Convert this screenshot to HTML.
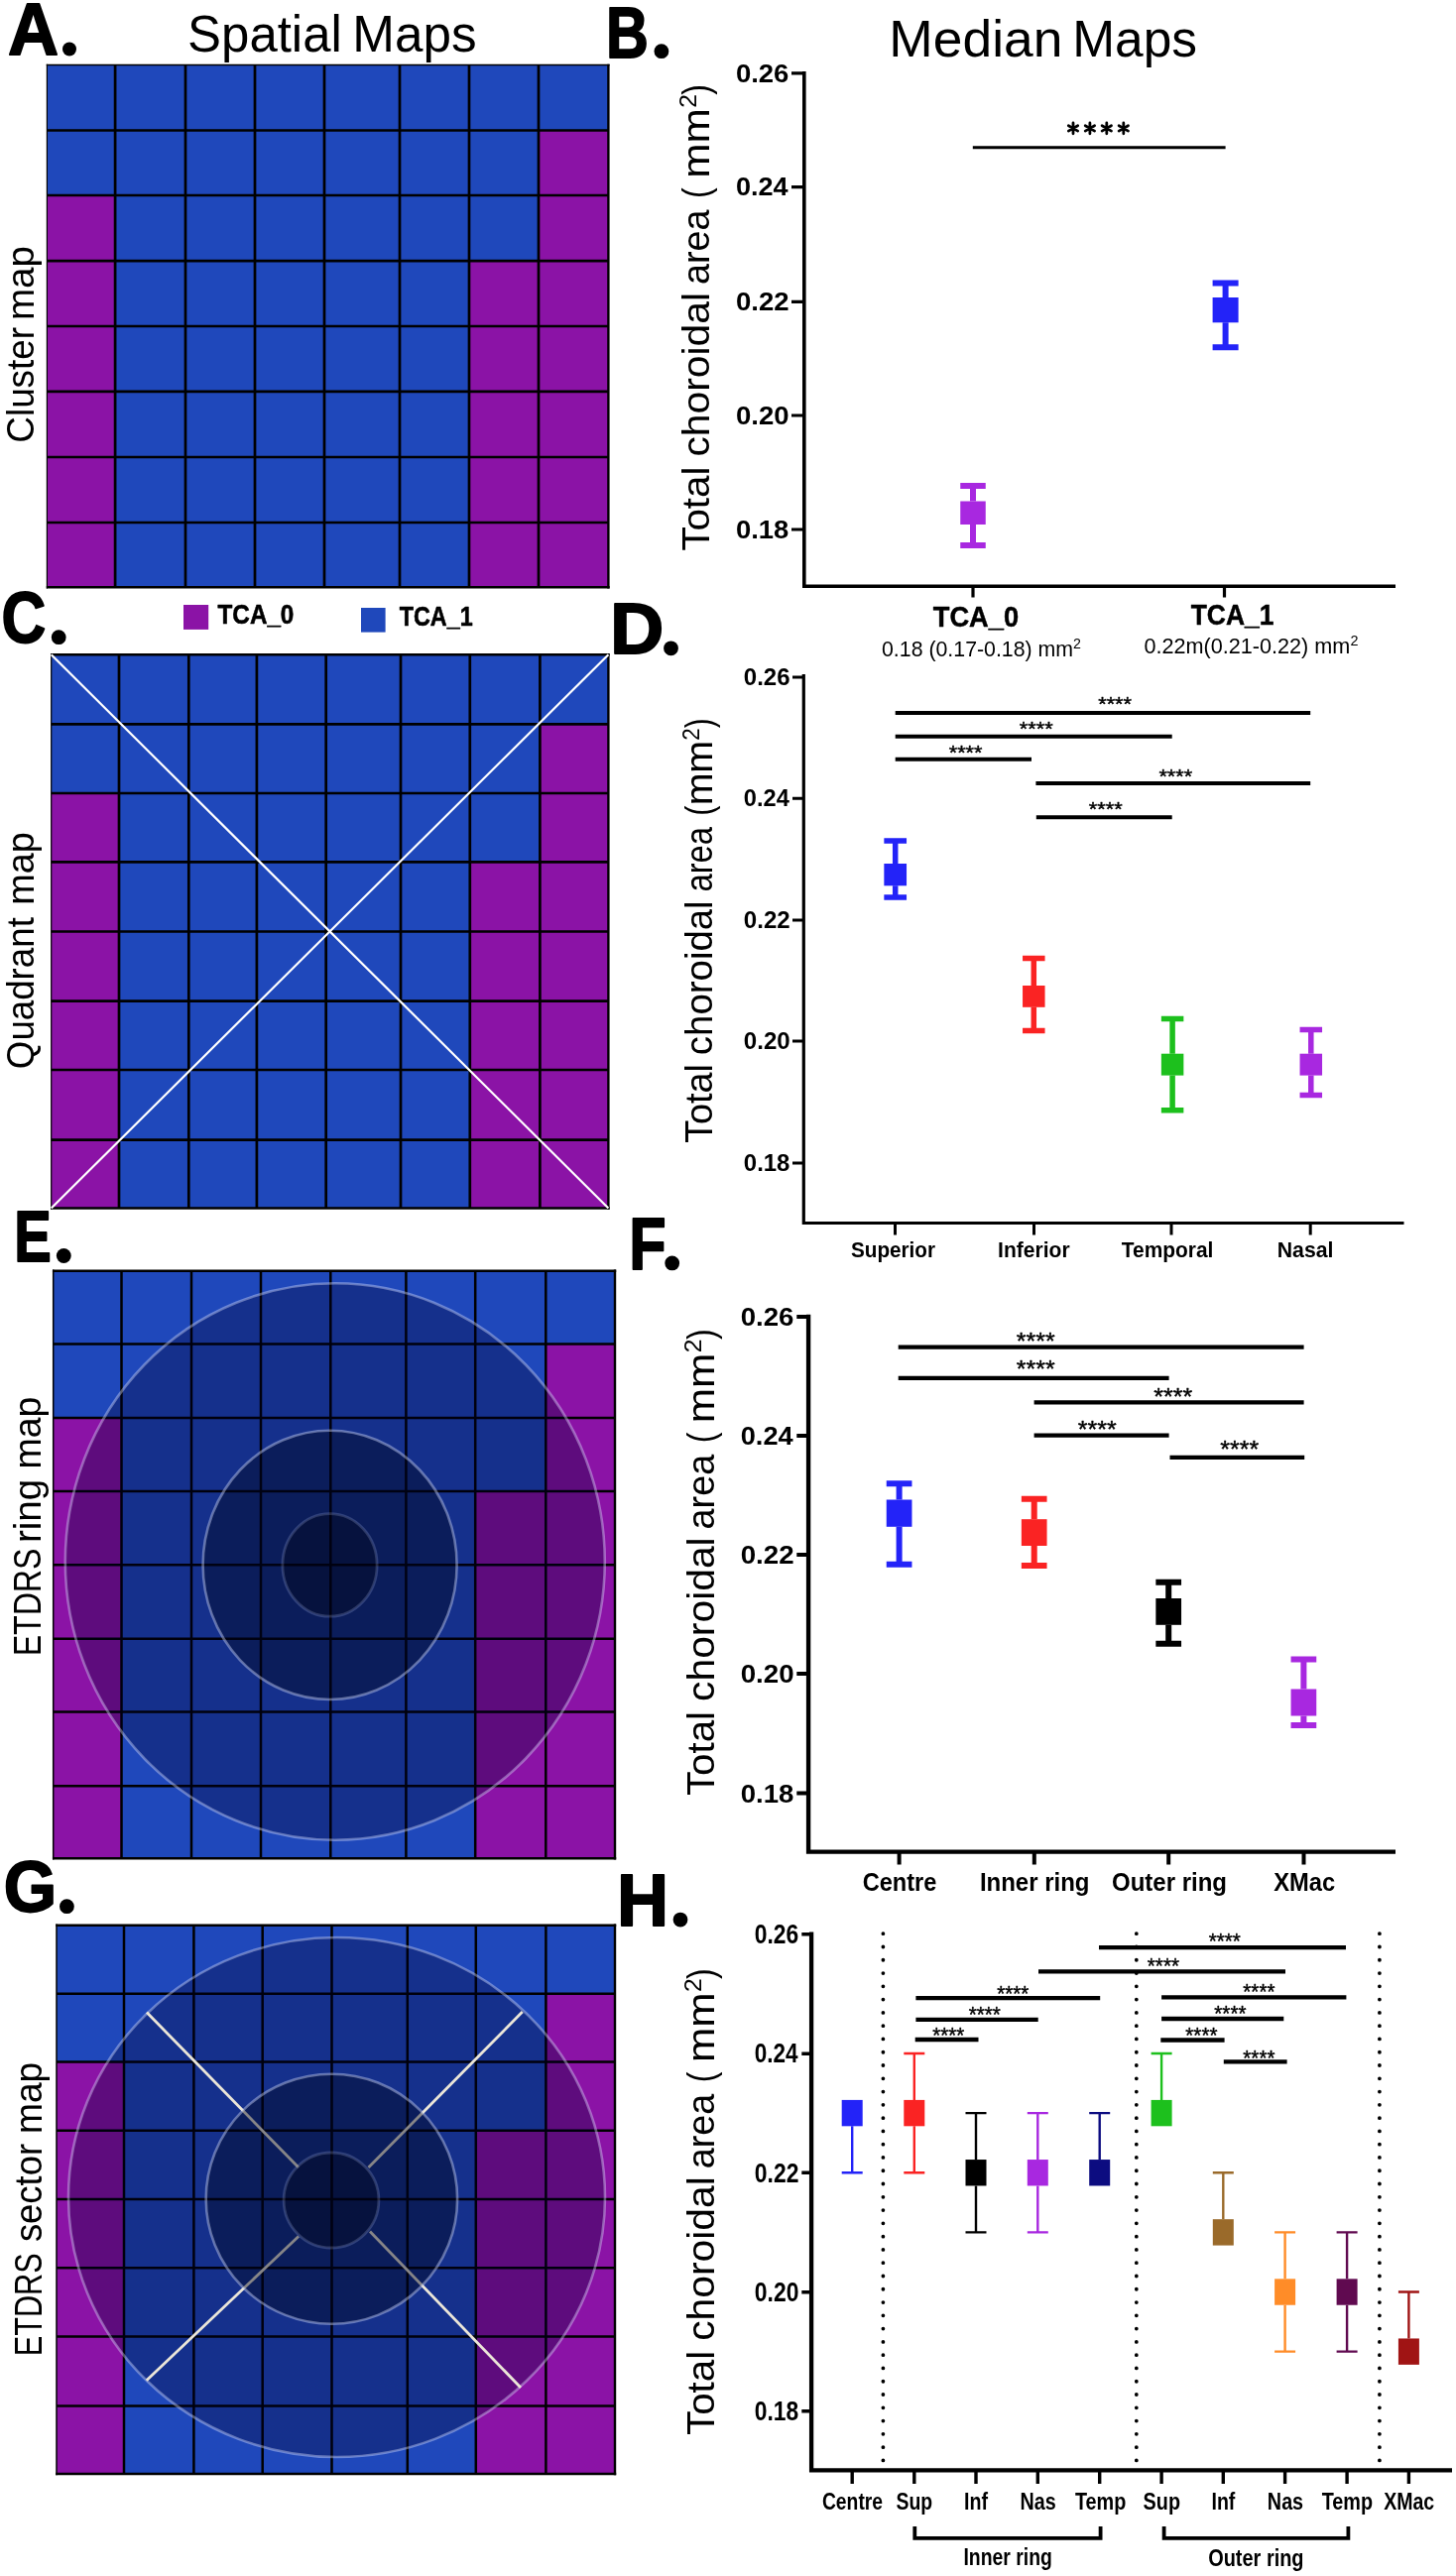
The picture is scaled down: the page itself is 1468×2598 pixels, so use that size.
<!DOCTYPE html>
<html><head><meta charset="utf-8"><title>Figure</title>
<style>html,body{margin:0;padding:0;background:#fff}svg{display:block}text{font-family:"Liberation Sans", sans-serif}</style>
</head><body>
<svg width="1468" height="2598" viewBox="0 0 1468 2598" style="will-change:transform">
<rect width="1468" height="2598" fill="#fff"/>
<rect x="47.4" y="65.5" width="69.2" height="66.5" fill="#1f48bb"/>
<rect x="116.1" y="65.5" width="71.4" height="66.5" fill="#1f48bb"/>
<rect x="187" y="65.5" width="70.5" height="66.5" fill="#1f48bb"/>
<rect x="257" y="65.5" width="70.5" height="66.5" fill="#1f48bb"/>
<rect x="327" y="65.5" width="76.5" height="66.5" fill="#1f48bb"/>
<rect x="403" y="65.5" width="70.5" height="66.5" fill="#1f48bb"/>
<rect x="473" y="65.5" width="70.5" height="66.5" fill="#1f48bb"/>
<rect x="543" y="65.5" width="70.9" height="66.5" fill="#1f48bb"/>
<rect x="47.4" y="131.5" width="69.2" height="66" fill="#1f48bb"/>
<rect x="116.1" y="131.5" width="71.4" height="66" fill="#1f48bb"/>
<rect x="187" y="131.5" width="70.5" height="66" fill="#1f48bb"/>
<rect x="257" y="131.5" width="70.5" height="66" fill="#1f48bb"/>
<rect x="327" y="131.5" width="76.5" height="66" fill="#1f48bb"/>
<rect x="403" y="131.5" width="70.5" height="66" fill="#1f48bb"/>
<rect x="473" y="131.5" width="70.5" height="66" fill="#1f48bb"/>
<rect x="543" y="131.5" width="70.9" height="66" fill="#8b13a6"/>
<rect x="47.4" y="197" width="69.2" height="66.7" fill="#8b13a6"/>
<rect x="116.1" y="197" width="71.4" height="66.7" fill="#1f48bb"/>
<rect x="187" y="197" width="70.5" height="66.7" fill="#1f48bb"/>
<rect x="257" y="197" width="70.5" height="66.7" fill="#1f48bb"/>
<rect x="327" y="197" width="76.5" height="66.7" fill="#1f48bb"/>
<rect x="403" y="197" width="70.5" height="66.7" fill="#1f48bb"/>
<rect x="473" y="197" width="70.5" height="66.7" fill="#1f48bb"/>
<rect x="543" y="197" width="70.9" height="66.7" fill="#8b13a6"/>
<rect x="47.4" y="263.2" width="69.2" height="66.3" fill="#8b13a6"/>
<rect x="116.1" y="263.2" width="71.4" height="66.3" fill="#1f48bb"/>
<rect x="187" y="263.2" width="70.5" height="66.3" fill="#1f48bb"/>
<rect x="257" y="263.2" width="70.5" height="66.3" fill="#1f48bb"/>
<rect x="327" y="263.2" width="76.5" height="66.3" fill="#1f48bb"/>
<rect x="403" y="263.2" width="70.5" height="66.3" fill="#1f48bb"/>
<rect x="473" y="263.2" width="70.5" height="66.3" fill="#8b13a6"/>
<rect x="543" y="263.2" width="70.9" height="66.3" fill="#8b13a6"/>
<rect x="47.4" y="329" width="69.2" height="66.4" fill="#8b13a6"/>
<rect x="116.1" y="329" width="71.4" height="66.4" fill="#1f48bb"/>
<rect x="187" y="329" width="70.5" height="66.4" fill="#1f48bb"/>
<rect x="257" y="329" width="70.5" height="66.4" fill="#1f48bb"/>
<rect x="327" y="329" width="76.5" height="66.4" fill="#1f48bb"/>
<rect x="403" y="329" width="70.5" height="66.4" fill="#1f48bb"/>
<rect x="473" y="329" width="70.5" height="66.4" fill="#8b13a6"/>
<rect x="543" y="329" width="70.9" height="66.4" fill="#8b13a6"/>
<rect x="47.4" y="394.9" width="69.2" height="66.6" fill="#8b13a6"/>
<rect x="116.1" y="394.9" width="71.4" height="66.6" fill="#1f48bb"/>
<rect x="187" y="394.9" width="70.5" height="66.6" fill="#1f48bb"/>
<rect x="257" y="394.9" width="70.5" height="66.6" fill="#1f48bb"/>
<rect x="327" y="394.9" width="76.5" height="66.6" fill="#1f48bb"/>
<rect x="403" y="394.9" width="70.5" height="66.6" fill="#1f48bb"/>
<rect x="473" y="394.9" width="70.5" height="66.6" fill="#8b13a6"/>
<rect x="543" y="394.9" width="70.9" height="66.6" fill="#8b13a6"/>
<rect x="47.4" y="461" width="69.2" height="66.5" fill="#8b13a6"/>
<rect x="116.1" y="461" width="71.4" height="66.5" fill="#1f48bb"/>
<rect x="187" y="461" width="70.5" height="66.5" fill="#1f48bb"/>
<rect x="257" y="461" width="70.5" height="66.5" fill="#1f48bb"/>
<rect x="327" y="461" width="76.5" height="66.5" fill="#1f48bb"/>
<rect x="403" y="461" width="70.5" height="66.5" fill="#1f48bb"/>
<rect x="473" y="461" width="70.5" height="66.5" fill="#8b13a6"/>
<rect x="543" y="461" width="70.9" height="66.5" fill="#8b13a6"/>
<rect x="47.4" y="527" width="69.2" height="65.8" fill="#8b13a6"/>
<rect x="116.1" y="527" width="71.4" height="65.8" fill="#1f48bb"/>
<rect x="187" y="527" width="70.5" height="65.8" fill="#1f48bb"/>
<rect x="257" y="527" width="70.5" height="65.8" fill="#1f48bb"/>
<rect x="327" y="527" width="76.5" height="65.8" fill="#1f48bb"/>
<rect x="403" y="527" width="70.5" height="65.8" fill="#1f48bb"/>
<rect x="473" y="527" width="70.5" height="65.8" fill="#8b13a6"/>
<rect x="543" y="527" width="70.9" height="65.8" fill="#8b13a6"/>
<path d="M116.1 65.5V592.3M187 65.5V592.3M257 65.5V592.3M327 65.5V592.3M403 65.5V592.3M473 65.5V592.3M543 65.5V592.3M47.4 131.5H613.4M47.4 197H613.4M47.4 263.2H613.4M47.4 329H613.4M47.4 394.9H613.4M47.4 461H613.4M47.4 527H613.4" stroke="#000" stroke-width="2.7" fill="none"/>
<path d="M47.4 64.7V593.5" stroke="#000" stroke-width="1.2"/>
<path d="M613.4 64.7V593.5" stroke="#000" stroke-width="2.4"/>
<path d="M46.8 65.5H614.6" stroke="#000" stroke-width="1.6"/>
<path d="M46.8 592.3H614.6" stroke="#000" stroke-width="2.4"/>
<rect x="51.7" y="660.3" width="68.8" height="70.6" fill="#1f48bb"/>
<rect x="120" y="660.3" width="70.8" height="70.6" fill="#1f48bb"/>
<rect x="190.3" y="660.3" width="69.1" height="70.6" fill="#1f48bb"/>
<rect x="258.9" y="660.3" width="70.3" height="70.6" fill="#1f48bb"/>
<rect x="328.7" y="660.3" width="75.8" height="70.6" fill="#1f48bb"/>
<rect x="404" y="660.3" width="70.3" height="70.6" fill="#1f48bb"/>
<rect x="473.8" y="660.3" width="71.1" height="70.6" fill="#1f48bb"/>
<rect x="544.4" y="660.3" width="69.5" height="70.6" fill="#1f48bb"/>
<rect x="51.7" y="730.4" width="68.8" height="70.1" fill="#1f48bb"/>
<rect x="120" y="730.4" width="70.8" height="70.1" fill="#1f48bb"/>
<rect x="190.3" y="730.4" width="69.1" height="70.1" fill="#1f48bb"/>
<rect x="258.9" y="730.4" width="70.3" height="70.1" fill="#1f48bb"/>
<rect x="328.7" y="730.4" width="75.8" height="70.1" fill="#1f48bb"/>
<rect x="404" y="730.4" width="70.3" height="70.1" fill="#1f48bb"/>
<rect x="473.8" y="730.4" width="71.1" height="70.1" fill="#1f48bb"/>
<rect x="544.4" y="730.4" width="69.5" height="70.1" fill="#8b13a6"/>
<rect x="51.7" y="800" width="68.8" height="69.8" fill="#8b13a6"/>
<rect x="120" y="800" width="70.8" height="69.8" fill="#1f48bb"/>
<rect x="190.3" y="800" width="69.1" height="69.8" fill="#1f48bb"/>
<rect x="258.9" y="800" width="70.3" height="69.8" fill="#1f48bb"/>
<rect x="328.7" y="800" width="75.8" height="69.8" fill="#1f48bb"/>
<rect x="404" y="800" width="70.3" height="69.8" fill="#1f48bb"/>
<rect x="473.8" y="800" width="71.1" height="69.8" fill="#1f48bb"/>
<rect x="544.4" y="800" width="69.5" height="69.8" fill="#8b13a6"/>
<rect x="51.7" y="869.3" width="68.8" height="70.7" fill="#8b13a6"/>
<rect x="120" y="869.3" width="70.8" height="70.7" fill="#1f48bb"/>
<rect x="190.3" y="869.3" width="69.1" height="70.7" fill="#1f48bb"/>
<rect x="258.9" y="869.3" width="70.3" height="70.7" fill="#1f48bb"/>
<rect x="328.7" y="869.3" width="75.8" height="70.7" fill="#1f48bb"/>
<rect x="404" y="869.3" width="70.3" height="70.7" fill="#1f48bb"/>
<rect x="473.8" y="869.3" width="71.1" height="70.7" fill="#8b13a6"/>
<rect x="544.4" y="869.3" width="69.5" height="70.7" fill="#8b13a6"/>
<rect x="51.7" y="939.5" width="68.8" height="70.6" fill="#8b13a6"/>
<rect x="120" y="939.5" width="70.8" height="70.6" fill="#1f48bb"/>
<rect x="190.3" y="939.5" width="69.1" height="70.6" fill="#1f48bb"/>
<rect x="258.9" y="939.5" width="70.3" height="70.6" fill="#1f48bb"/>
<rect x="328.7" y="939.5" width="75.8" height="70.6" fill="#1f48bb"/>
<rect x="404" y="939.5" width="70.3" height="70.6" fill="#1f48bb"/>
<rect x="473.8" y="939.5" width="71.1" height="70.6" fill="#8b13a6"/>
<rect x="544.4" y="939.5" width="69.5" height="70.6" fill="#8b13a6"/>
<rect x="51.7" y="1009.6" width="68.8" height="69.9" fill="#8b13a6"/>
<rect x="120" y="1009.6" width="70.8" height="69.9" fill="#1f48bb"/>
<rect x="190.3" y="1009.6" width="69.1" height="69.9" fill="#1f48bb"/>
<rect x="258.9" y="1009.6" width="70.3" height="69.9" fill="#1f48bb"/>
<rect x="328.7" y="1009.6" width="75.8" height="69.9" fill="#1f48bb"/>
<rect x="404" y="1009.6" width="70.3" height="69.9" fill="#1f48bb"/>
<rect x="473.8" y="1009.6" width="71.1" height="69.9" fill="#8b13a6"/>
<rect x="544.4" y="1009.6" width="69.5" height="69.9" fill="#8b13a6"/>
<rect x="51.7" y="1079" width="68.8" height="71.2" fill="#8b13a6"/>
<rect x="120" y="1079" width="70.8" height="71.2" fill="#1f48bb"/>
<rect x="190.3" y="1079" width="69.1" height="71.2" fill="#1f48bb"/>
<rect x="258.9" y="1079" width="70.3" height="71.2" fill="#1f48bb"/>
<rect x="328.7" y="1079" width="75.8" height="71.2" fill="#1f48bb"/>
<rect x="404" y="1079" width="70.3" height="71.2" fill="#1f48bb"/>
<rect x="473.8" y="1079" width="71.1" height="71.2" fill="#8b13a6"/>
<rect x="544.4" y="1079" width="69.5" height="71.2" fill="#8b13a6"/>
<rect x="51.7" y="1149.7" width="68.8" height="69.3" fill="#8b13a6"/>
<rect x="120" y="1149.7" width="70.8" height="69.3" fill="#1f48bb"/>
<rect x="190.3" y="1149.7" width="69.1" height="69.3" fill="#1f48bb"/>
<rect x="258.9" y="1149.7" width="70.3" height="69.3" fill="#1f48bb"/>
<rect x="328.7" y="1149.7" width="75.8" height="69.3" fill="#1f48bb"/>
<rect x="404" y="1149.7" width="70.3" height="69.3" fill="#1f48bb"/>
<rect x="473.8" y="1149.7" width="71.1" height="69.3" fill="#8b13a6"/>
<rect x="544.4" y="1149.7" width="69.5" height="69.3" fill="#8b13a6"/>
<path d="M120 660.3V1218.5M190.3 660.3V1218.5M258.9 660.3V1218.5M328.7 660.3V1218.5M404 660.3V1218.5M473.8 660.3V1218.5M544.4 660.3V1218.5M51.7 730.4H613.4M51.7 800H613.4M51.7 869.3H613.4M51.7 939.5H613.4M51.7 1009.6H613.4M51.7 1079H613.4M51.7 1149.7H613.4" stroke="#000" stroke-width="2.7" fill="none"/>
<path d="M51.7 659.1V1219.7" stroke="#000" stroke-width="1.2"/>
<path d="M613.4 659.1V1219.7" stroke="#000" stroke-width="2.4"/>
<path d="M51.1 660.3H614.6" stroke="#000" stroke-width="2.4"/>
<path d="M51.1 1218.5H614.6" stroke="#000" stroke-width="2.4"/>
<path d="M51.7 660.3L613.4 1218.5M613.4 660.3L51.7 1218.5" stroke="#fff" stroke-width="2.2"/>
<rect x="53.7" y="1281.8" width="69.3" height="74.2" fill="#1f48bb"/>
<rect x="122.5" y="1281.8" width="71" height="74.2" fill="#1f48bb"/>
<rect x="193" y="1281.8" width="70.5" height="74.2" fill="#1f48bb"/>
<rect x="263" y="1281.8" width="70.8" height="74.2" fill="#1f48bb"/>
<rect x="333.3" y="1281.8" width="76.6" height="74.2" fill="#1f48bb"/>
<rect x="409.4" y="1281.8" width="70.3" height="74.2" fill="#1f48bb"/>
<rect x="479.2" y="1281.8" width="71.6" height="74.2" fill="#1f48bb"/>
<rect x="550.3" y="1281.8" width="70.2" height="74.2" fill="#1f48bb"/>
<rect x="53.7" y="1355.5" width="69.3" height="74.9" fill="#1f48bb"/>
<rect x="122.5" y="1355.5" width="71" height="74.9" fill="#1f48bb"/>
<rect x="193" y="1355.5" width="70.5" height="74.9" fill="#1f48bb"/>
<rect x="263" y="1355.5" width="70.8" height="74.9" fill="#1f48bb"/>
<rect x="333.3" y="1355.5" width="76.6" height="74.9" fill="#1f48bb"/>
<rect x="409.4" y="1355.5" width="70.3" height="74.9" fill="#1f48bb"/>
<rect x="479.2" y="1355.5" width="71.6" height="74.9" fill="#1f48bb"/>
<rect x="550.3" y="1355.5" width="70.2" height="74.9" fill="#8b13a6"/>
<rect x="53.7" y="1429.9" width="69.3" height="74.5" fill="#8b13a6"/>
<rect x="122.5" y="1429.9" width="71" height="74.5" fill="#1f48bb"/>
<rect x="193" y="1429.9" width="70.5" height="74.5" fill="#1f48bb"/>
<rect x="263" y="1429.9" width="70.8" height="74.5" fill="#1f48bb"/>
<rect x="333.3" y="1429.9" width="76.6" height="74.5" fill="#1f48bb"/>
<rect x="409.4" y="1429.9" width="70.3" height="74.5" fill="#1f48bb"/>
<rect x="479.2" y="1429.9" width="71.6" height="74.5" fill="#1f48bb"/>
<rect x="550.3" y="1429.9" width="70.2" height="74.5" fill="#8b13a6"/>
<rect x="53.7" y="1503.9" width="69.3" height="74.9" fill="#8b13a6"/>
<rect x="122.5" y="1503.9" width="71" height="74.9" fill="#1f48bb"/>
<rect x="193" y="1503.9" width="70.5" height="74.9" fill="#1f48bb"/>
<rect x="263" y="1503.9" width="70.8" height="74.9" fill="#1f48bb"/>
<rect x="333.3" y="1503.9" width="76.6" height="74.9" fill="#1f48bb"/>
<rect x="409.4" y="1503.9" width="70.3" height="74.9" fill="#1f48bb"/>
<rect x="479.2" y="1503.9" width="71.6" height="74.9" fill="#8b13a6"/>
<rect x="550.3" y="1503.9" width="70.2" height="74.9" fill="#8b13a6"/>
<rect x="53.7" y="1578.3" width="69.3" height="75" fill="#8b13a6"/>
<rect x="122.5" y="1578.3" width="71" height="75" fill="#1f48bb"/>
<rect x="193" y="1578.3" width="70.5" height="75" fill="#1f48bb"/>
<rect x="263" y="1578.3" width="70.8" height="75" fill="#1f48bb"/>
<rect x="333.3" y="1578.3" width="76.6" height="75" fill="#1f48bb"/>
<rect x="409.4" y="1578.3" width="70.3" height="75" fill="#1f48bb"/>
<rect x="479.2" y="1578.3" width="71.6" height="75" fill="#8b13a6"/>
<rect x="550.3" y="1578.3" width="70.2" height="75" fill="#8b13a6"/>
<rect x="53.7" y="1652.8" width="69.3" height="74.1" fill="#8b13a6"/>
<rect x="122.5" y="1652.8" width="71" height="74.1" fill="#1f48bb"/>
<rect x="193" y="1652.8" width="70.5" height="74.1" fill="#1f48bb"/>
<rect x="263" y="1652.8" width="70.8" height="74.1" fill="#1f48bb"/>
<rect x="333.3" y="1652.8" width="76.6" height="74.1" fill="#1f48bb"/>
<rect x="409.4" y="1652.8" width="70.3" height="74.1" fill="#1f48bb"/>
<rect x="479.2" y="1652.8" width="71.6" height="74.1" fill="#8b13a6"/>
<rect x="550.3" y="1652.8" width="70.2" height="74.1" fill="#8b13a6"/>
<rect x="53.7" y="1726.4" width="69.3" height="75.3" fill="#8b13a6"/>
<rect x="122.5" y="1726.4" width="71" height="75.3" fill="#1f48bb"/>
<rect x="193" y="1726.4" width="70.5" height="75.3" fill="#1f48bb"/>
<rect x="263" y="1726.4" width="70.8" height="75.3" fill="#1f48bb"/>
<rect x="333.3" y="1726.4" width="76.6" height="75.3" fill="#1f48bb"/>
<rect x="409.4" y="1726.4" width="70.3" height="75.3" fill="#1f48bb"/>
<rect x="479.2" y="1726.4" width="71.6" height="75.3" fill="#8b13a6"/>
<rect x="550.3" y="1726.4" width="70.2" height="75.3" fill="#8b13a6"/>
<rect x="53.7" y="1801.2" width="69.3" height="73.6" fill="#8b13a6"/>
<rect x="122.5" y="1801.2" width="71" height="73.6" fill="#1f48bb"/>
<rect x="193" y="1801.2" width="70.5" height="73.6" fill="#1f48bb"/>
<rect x="263" y="1801.2" width="70.8" height="73.6" fill="#1f48bb"/>
<rect x="333.3" y="1801.2" width="76.6" height="73.6" fill="#1f48bb"/>
<rect x="409.4" y="1801.2" width="70.3" height="73.6" fill="#1f48bb"/>
<rect x="479.2" y="1801.2" width="71.6" height="73.6" fill="#8b13a6"/>
<rect x="550.3" y="1801.2" width="70.2" height="73.6" fill="#8b13a6"/>
<path d="M122.5 1281.8V1874.3M193 1281.8V1874.3M263 1281.8V1874.3M333.3 1281.8V1874.3M409.4 1281.8V1874.3M479.2 1281.8V1874.3M550.3 1281.8V1874.3M53.7 1355.5H620M53.7 1429.9H620M53.7 1503.9H620M53.7 1578.3H620M53.7 1652.8H620M53.7 1726.4H620M53.7 1801.2H620" stroke="#000" stroke-width="2.5" fill="none"/>
<path d="M53.7 1280.6V1875.5" stroke="#000" stroke-width="1.5"/>
<path d="M620 1280.6V1875.5" stroke="#000" stroke-width="2.4"/>
<path d="M52.95 1281.8H621.2" stroke="#000" stroke-width="2.4"/>
<path d="M52.95 1874.3H621.2" stroke="#000" stroke-width="2.4"/>
<ellipse cx="337.8" cy="1575" rx="272" ry="280.7" fill="#000028" fill-opacity="0.32" stroke="#dfe4ff" stroke-opacity="0.4" stroke-width="2.6"/>
<ellipse cx="332.6" cy="1578.4" rx="128" ry="135.6" fill="#00051c" fill-opacity="0.43" stroke="#d0d8f8" stroke-opacity="0.44" stroke-width="2.6"/>
<ellipse cx="332.5" cy="1578.4" rx="47.6" ry="51.8" fill="#000011" fill-opacity="0.38" stroke="#b8c4f0" stroke-opacity="0.22" stroke-width="2.8"/>
<rect x="57" y="1941.8" width="68.5" height="69.4" fill="#1f48bb"/>
<rect x="125" y="1941.8" width="70.9" height="69.4" fill="#1f48bb"/>
<rect x="195.4" y="1941.8" width="69.8" height="69.4" fill="#1f48bb"/>
<rect x="264.7" y="1941.8" width="70.3" height="69.4" fill="#1f48bb"/>
<rect x="334.5" y="1941.8" width="76.8" height="69.4" fill="#1f48bb"/>
<rect x="410.8" y="1941.8" width="69.5" height="69.4" fill="#1f48bb"/>
<rect x="479.8" y="1941.8" width="71.1" height="69.4" fill="#1f48bb"/>
<rect x="550.4" y="1941.8" width="70.1" height="69.4" fill="#1f48bb"/>
<rect x="57" y="2010.7" width="68.5" height="69.3" fill="#1f48bb"/>
<rect x="125" y="2010.7" width="70.9" height="69.3" fill="#1f48bb"/>
<rect x="195.4" y="2010.7" width="69.8" height="69.3" fill="#1f48bb"/>
<rect x="264.7" y="2010.7" width="70.3" height="69.3" fill="#1f48bb"/>
<rect x="334.5" y="2010.7" width="76.8" height="69.3" fill="#1f48bb"/>
<rect x="410.8" y="2010.7" width="69.5" height="69.3" fill="#1f48bb"/>
<rect x="479.8" y="2010.7" width="71.1" height="69.3" fill="#1f48bb"/>
<rect x="550.4" y="2010.7" width="70.1" height="69.3" fill="#8b13a6"/>
<rect x="57" y="2079.5" width="68.5" height="69.8" fill="#8b13a6"/>
<rect x="125" y="2079.5" width="70.9" height="69.8" fill="#1f48bb"/>
<rect x="195.4" y="2079.5" width="69.8" height="69.8" fill="#1f48bb"/>
<rect x="264.7" y="2079.5" width="70.3" height="69.8" fill="#1f48bb"/>
<rect x="334.5" y="2079.5" width="76.8" height="69.8" fill="#1f48bb"/>
<rect x="410.8" y="2079.5" width="69.5" height="69.8" fill="#1f48bb"/>
<rect x="479.8" y="2079.5" width="71.1" height="69.8" fill="#1f48bb"/>
<rect x="550.4" y="2079.5" width="70.1" height="69.8" fill="#8b13a6"/>
<rect x="57" y="2148.8" width="68.5" height="69.7" fill="#8b13a6"/>
<rect x="125" y="2148.8" width="70.9" height="69.7" fill="#1f48bb"/>
<rect x="195.4" y="2148.8" width="69.8" height="69.7" fill="#1f48bb"/>
<rect x="264.7" y="2148.8" width="70.3" height="69.7" fill="#1f48bb"/>
<rect x="334.5" y="2148.8" width="76.8" height="69.7" fill="#1f48bb"/>
<rect x="410.8" y="2148.8" width="69.5" height="69.7" fill="#1f48bb"/>
<rect x="479.8" y="2148.8" width="71.1" height="69.7" fill="#8b13a6"/>
<rect x="550.4" y="2148.8" width="70.1" height="69.7" fill="#8b13a6"/>
<rect x="57" y="2218" width="68.5" height="69.7" fill="#8b13a6"/>
<rect x="125" y="2218" width="70.9" height="69.7" fill="#1f48bb"/>
<rect x="195.4" y="2218" width="69.8" height="69.7" fill="#1f48bb"/>
<rect x="264.7" y="2218" width="70.3" height="69.7" fill="#1f48bb"/>
<rect x="334.5" y="2218" width="76.8" height="69.7" fill="#1f48bb"/>
<rect x="410.8" y="2218" width="69.5" height="69.7" fill="#1f48bb"/>
<rect x="479.8" y="2218" width="71.1" height="69.7" fill="#8b13a6"/>
<rect x="550.4" y="2218" width="70.1" height="69.7" fill="#8b13a6"/>
<rect x="57" y="2287.2" width="68.5" height="69.9" fill="#8b13a6"/>
<rect x="125" y="2287.2" width="70.9" height="69.9" fill="#1f48bb"/>
<rect x="195.4" y="2287.2" width="69.8" height="69.9" fill="#1f48bb"/>
<rect x="264.7" y="2287.2" width="70.3" height="69.9" fill="#1f48bb"/>
<rect x="334.5" y="2287.2" width="76.8" height="69.9" fill="#1f48bb"/>
<rect x="410.8" y="2287.2" width="69.5" height="69.9" fill="#1f48bb"/>
<rect x="479.8" y="2287.2" width="71.1" height="69.9" fill="#8b13a6"/>
<rect x="550.4" y="2287.2" width="70.1" height="69.9" fill="#8b13a6"/>
<rect x="57" y="2356.6" width="68.5" height="70.5" fill="#8b13a6"/>
<rect x="125" y="2356.6" width="70.9" height="70.5" fill="#1f48bb"/>
<rect x="195.4" y="2356.6" width="69.8" height="70.5" fill="#1f48bb"/>
<rect x="264.7" y="2356.6" width="70.3" height="70.5" fill="#1f48bb"/>
<rect x="334.5" y="2356.6" width="76.8" height="70.5" fill="#1f48bb"/>
<rect x="410.8" y="2356.6" width="69.5" height="70.5" fill="#1f48bb"/>
<rect x="479.8" y="2356.6" width="71.1" height="70.5" fill="#8b13a6"/>
<rect x="550.4" y="2356.6" width="70.1" height="70.5" fill="#8b13a6"/>
<rect x="57" y="2426.6" width="68.5" height="68.9" fill="#8b13a6"/>
<rect x="125" y="2426.6" width="70.9" height="68.9" fill="#1f48bb"/>
<rect x="195.4" y="2426.6" width="69.8" height="68.9" fill="#1f48bb"/>
<rect x="264.7" y="2426.6" width="70.3" height="68.9" fill="#1f48bb"/>
<rect x="334.5" y="2426.6" width="76.8" height="68.9" fill="#1f48bb"/>
<rect x="410.8" y="2426.6" width="69.5" height="68.9" fill="#1f48bb"/>
<rect x="479.8" y="2426.6" width="71.1" height="68.9" fill="#8b13a6"/>
<rect x="550.4" y="2426.6" width="70.1" height="68.9" fill="#8b13a6"/>
<path d="M125 1941.8V2495M195.4 1941.8V2495M264.7 1941.8V2495M334.5 1941.8V2495M410.8 1941.8V2495M479.8 1941.8V2495M550.4 1941.8V2495M57 2010.7H620M57 2079.5H620M57 2148.8H620M57 2218H620M57 2287.2H620M57 2356.6H620M57 2426.6H620" stroke="#000" stroke-width="2.5" fill="none"/>
<path d="M57 1940.6V2496.2" stroke="#000" stroke-width="1.5"/>
<path d="M620 1940.6V2496.2" stroke="#000" stroke-width="2.4"/>
<path d="M56.25 1941.8H621.2" stroke="#000" stroke-width="2.4"/>
<path d="M56.25 2495H621.2" stroke="#000" stroke-width="2.4"/>
<ellipse cx="339.5" cy="2216" rx="270.5" ry="262" fill="#000028" fill-opacity="0.32" stroke="#dfe4ff" stroke-opacity="0.4" stroke-width="2.6"/>
<path d="M148 2029.6L301 2186M526.7 2029L371.5 2186M147.7 2400.7L301 2255.5M525 2408L373 2250.5" stroke="#ebe6d8" stroke-width="2.8"/>
<ellipse cx="334.4" cy="2217.7" rx="126.7" ry="126" fill="#00051c" fill-opacity="0.43" stroke="#d0d8f8" stroke-opacity="0.44" stroke-width="2.6"/>
<ellipse cx="334" cy="2219" rx="47.9" ry="48" fill="#000011" fill-opacity="0.38" stroke="#b8c4f0" stroke-opacity="0.22" stroke-width="2.8"/>
<rect x="185" y="610" width="25.2" height="24.9" fill="#8b13a6"/>
<rect x="364" y="613" width="24.6" height="24.6" fill="#1f48bb"/>
<text transform="translate(219.56 628.6) scale(0.8982 1)" font-size="27" font-weight="bold" fill="#000" stroke="#000" stroke-width="0.6" stroke-linejoin="round">TCA_0</text>
<text transform="translate(402.77 631) scale(0.8638 1)" font-size="27" font-weight="bold" fill="#000" stroke="#000" stroke-width="0.6" stroke-linejoin="round">TCA_1</text>
<text transform="translate(7.93 55.1) scale(0.9650 1)" font-size="73.31" font-weight="bold" fill="#000" stroke="#000" stroke-width="1.8" stroke-linejoin="round">A</text>
<circle cx="70" cy="49.5" r="7" fill="#000"/>
<text transform="translate(610.89 57.6) scale(0.8209 1)" font-size="72.29" font-weight="bold" fill="#000" stroke="#000" stroke-width="1.8" stroke-linejoin="round">B</text>
<circle cx="666.9" cy="51.7" r="7.4" fill="#000"/>
<text transform="translate(1.42 648.23) scale(0.8572 1)" font-size="72.31" font-weight="bold" fill="#000" stroke="#000" stroke-width="1.8" stroke-linejoin="round">C</text>
<circle cx="59.2" cy="642.7" r="7.4" fill="#000"/>
<text transform="translate(615.02 659.4) scale(1.0328 1)" font-size="72.87" font-weight="bold" fill="#000" stroke="#000" stroke-width="1.8" stroke-linejoin="round">D</text>
<circle cx="676.5" cy="653.8" r="7.4" fill="#000"/>
<text transform="translate(14.2 1272.4) scale(0.7750 1)" font-size="72.58" font-weight="bold" fill="#000" stroke="#000" stroke-width="1.8" stroke-linejoin="round">E</text>
<circle cx="64.3" cy="1266.5" r="7.4" fill="#000"/>
<text transform="translate(634.18 1279.8) scale(0.8283 1)" font-size="73.75" font-weight="bold" fill="#000" stroke="#000" stroke-width="1.8" stroke-linejoin="round">F</text>
<circle cx="677.7" cy="1273.9" r="7.4" fill="#000"/>
<text transform="translate(3.65 1928.23) scale(0.9525 1)" font-size="72.17" font-weight="bold" fill="#000" stroke="#000" stroke-width="1.8" stroke-linejoin="round">G</text>
<circle cx="67.4" cy="1922.7" r="7.4" fill="#000"/>
<text transform="translate(622.03 1942.3) scale(0.9806 1)" font-size="73.6" font-weight="bold" fill="#000" stroke="#000" stroke-width="1.8" stroke-linejoin="round">H</text>
<circle cx="686" cy="1936.1" r="7.4" fill="#000"/>
<text transform="translate(189.11 52.4) scale(0.9890 1)" font-size="51.5" font-weight="normal" fill="#000">Spatial</text>
<text transform="translate(355.37 52.4) scale(0.9944 1)" font-size="51.5" font-weight="normal" fill="#000">Maps</text>
<text transform="translate(896.3 56.7) scale(1.0267 1)" font-size="52" font-weight="normal" fill="#000">Median</text>
<text transform="translate(1081.15 56.7) scale(0.9898 1)" font-size="52" font-weight="normal" fill="#000">Maps</text>
<text transform="translate(34.1 446.64) rotate(-90) scale(0.9695 1)" font-size="38" font-weight="normal" fill="#000">Cluster</text>
<text transform="translate(34.1 323) rotate(-90) scale(1.0140 1)" font-size="38" font-weight="normal" fill="#000">map</text>
<text transform="translate(34.1 1078.14) rotate(-90) scale(0.9657 1)" font-size="38" font-weight="normal" fill="#000">Quadrant</text>
<text transform="translate(34.1 912.75) rotate(-90) scale(0.9953 1)" font-size="38" font-weight="normal" fill="#000">map</text>
<text transform="translate(40.7 1670.35) rotate(-90) scale(0.8452 1)" font-size="38" font-weight="normal" fill="#000">ETDRS</text>
<text transform="translate(40.7 1556.11) rotate(-90) scale(1.0167 1)" font-size="38" font-weight="normal" fill="#000">ring</text>
<text transform="translate(40.7 1481.53) rotate(-90) scale(0.9868 1)" font-size="38" font-weight="normal" fill="#000">map</text>
<text transform="translate(41.5 2376.23) rotate(-90) scale(0.8072 1)" font-size="38" font-weight="normal" fill="#000">ETDRS</text>
<text transform="translate(41.5 2261.1) rotate(-90) scale(0.9584 1)" font-size="38" font-weight="normal" fill="#000">sector</text>
<text transform="translate(41.5 2152.01) rotate(-90) scale(0.9782 1)" font-size="38" font-weight="normal" fill="#000">map</text>
<text transform="translate(714.8 555.71) rotate(-90) scale(1.0332 1)" font-size="39" font-weight="normal" fill="#000">Total</text>
<text transform="translate(714.8 460.54) rotate(-90) scale(1.0471 1)" font-size="39" font-weight="normal" fill="#000">choroidal</text>
<text transform="translate(714.8 287.01) rotate(-90) scale(0.9693 1)" font-size="39" font-weight="normal" fill="#000">area</text>
<text transform="translate(714.8 199.9) rotate(-90) scale(0.8205 1)" font-size="39" font-weight="normal" fill="#000">(</text>
<text transform="translate(714.8 179.75) rotate(-90) scale(1.0842 1)" font-size="39" font-weight="normal" fill="#000">mm</text>
<text transform="translate(702 108.73) rotate(-90) scale(1.0519 1)" font-size="23.4" font-weight="normal" fill="#000">2</text>
<text transform="translate(714.8 95.64) rotate(-90) scale(0.8205 1)" font-size="39" font-weight="normal" fill="#000">)</text>
<text transform="translate(718.2 1152.85) rotate(-90) scale(0.9686 1)" font-size="39" font-weight="normal" fill="#000">Total</text>
<text transform="translate(718.2 1064.13) rotate(-90) scale(0.9847 1)" font-size="39" font-weight="normal" fill="#000">choroidal</text>
<text transform="translate(718.2 899.49) rotate(-90) scale(0.8396 1)" font-size="39" font-weight="normal" fill="#000">area</text>
<text transform="translate(718.2 822.73) rotate(-90) scale(0.7912 1)" font-size="39" font-weight="normal" fill="#000">(</text>
<text transform="translate(718.2 812.35) rotate(-90) scale(1.0072 1)" font-size="39" font-weight="normal" fill="#000">mm</text>
<text transform="translate(705.4 746.72) rotate(-90) scale(0.9580 1)" font-size="23.4" font-weight="normal" fill="#000">2</text>
<text transform="translate(718.2 734.32) rotate(-90) scale(0.7521 1)" font-size="39" font-weight="normal" fill="#000">)</text>
<text transform="translate(720 1811.11) rotate(-90) scale(1.0332 1)" font-size="39" font-weight="normal" fill="#000">Total</text>
<text transform="translate(720 1715.94) rotate(-90) scale(1.0471 1)" font-size="39" font-weight="normal" fill="#000">choroidal</text>
<text transform="translate(720 1542.41) rotate(-90) scale(0.9693 1)" font-size="39" font-weight="normal" fill="#000">area</text>
<text transform="translate(720 1455.3) rotate(-90) scale(0.8205 1)" font-size="39" font-weight="normal" fill="#000">(</text>
<text transform="translate(720 1435.15) rotate(-90) scale(1.0842 1)" font-size="39" font-weight="normal" fill="#000">mm</text>
<text transform="translate(707.2 1364.13) rotate(-90) scale(1.0519 1)" font-size="23.4" font-weight="normal" fill="#000">2</text>
<text transform="translate(720 1351.04) rotate(-90) scale(0.8205 1)" font-size="39" font-weight="normal" fill="#000">)</text>
<text transform="translate(720 2456.01) rotate(-90) scale(1.0332 1)" font-size="39" font-weight="normal" fill="#000">Total</text>
<text transform="translate(720 2360.84) rotate(-90) scale(1.0471 1)" font-size="39" font-weight="normal" fill="#000">choroidal</text>
<text transform="translate(720 2187.31) rotate(-90) scale(0.9693 1)" font-size="39" font-weight="normal" fill="#000">area</text>
<text transform="translate(720 2100.2) rotate(-90) scale(0.8205 1)" font-size="39" font-weight="normal" fill="#000">(</text>
<text transform="translate(720 2080.05) rotate(-90) scale(1.0842 1)" font-size="39" font-weight="normal" fill="#000">mm</text>
<text transform="translate(707.2 2009.03) rotate(-90) scale(1.0519 1)" font-size="23.4" font-weight="normal" fill="#000">2</text>
<text transform="translate(720 1995.94) rotate(-90) scale(0.8205 1)" font-size="39" font-weight="normal" fill="#000">)</text>
<path d="M810.8 72V591.3H1407" stroke="#000" stroke-width="3.6" fill="none" stroke-linejoin="miter"/>
<path d="M798 73.9H810.8M798 188.6H810.8M798 304.3H810.8M798 419H810.8M798 534H810.8M981 591.3V602.5M1234.5 591.3V602.5" stroke="#000" stroke-width="3.2" fill="none"/>
<text transform="translate(741.9 82.67) scale(1.0779 1)" font-size="25.5" font-weight="bold" fill="#000">0.26</text>
<text transform="translate(741.92 197.37) scale(1.0609 1)" font-size="25.5" font-weight="bold" fill="#000">0.24</text>
<text transform="translate(741.9 313.07) scale(1.0808 1)" font-size="25.5" font-weight="bold" fill="#000">0.22</text>
<text transform="translate(741.9 427.77) scale(1.0808 1)" font-size="25.5" font-weight="bold" fill="#000">0.20</text>
<text transform="translate(741.9 542.77) scale(1.0750 1)" font-size="25.5" font-weight="bold" fill="#000">0.18</text>
<rect x="968.25" y="505.5" width="25.5" height="23.5" fill="#a828e0"/>
<path d="M981 505.5V490M968.25 490H993.75M981 529V550M968.25 550H993.75" stroke="#a828e0" stroke-width="6" fill="none"/>
<rect x="1222.6" y="300" width="26" height="25.3" fill="#2323f8"/>
<path d="M1235.6 300V285.5M1222.6 285.5H1248.6M1235.6 325.3V350.3M1222.6 350.3H1248.6" stroke="#2323f8" stroke-width="6" fill="none"/>
<path d="M980.8 148.8H1235.6" stroke="#000" stroke-width="3.1"/>
<path d="M1082 124L1082 134.8M1077.32 126.7L1086.68 132.1M1086.68 126.7L1077.32 132.1M1098.9 124L1098.9 134.8M1094.22 126.7L1103.58 132.1M1103.58 126.7L1094.22 132.1M1115.8 124L1115.8 134.8M1111.12 126.7L1120.48 132.1M1120.48 126.7L1111.12 132.1M1132.8 124L1132.8 134.8M1128.12 126.7L1137.48 132.1M1137.48 126.7L1128.12 132.1" stroke="#000" stroke-width="2.8" stroke-linecap="round" fill="none"/>
<text transform="translate(940.73 632.2) scale(0.8998 1)" font-size="30.3" font-weight="bold" fill="#000" stroke="#000" stroke-width="0.5" stroke-linejoin="round">TCA_0</text>
<text transform="translate(1200.64 630.3) scale(0.8731 1)" font-size="30.3" font-weight="bold" fill="#000" stroke="#000" stroke-width="0.5" stroke-linejoin="round">TCA_1</text>
<text x="889" y="661.7" font-size="22.5" textLength="201" lengthAdjust="spacingAndGlyphs">0.18 (0.17-0.18) mm<tspan font-size="15" dy="-7.5">2</tspan></text>
<text x="1153.4" y="658.7" font-size="22.5" textLength="216" lengthAdjust="spacingAndGlyphs">0.22m(0.21-0.22) mm<tspan font-size="15" dy="-7.5">2</tspan></text>
<path d="M810.3 680V1233.5H1415.5" stroke="#000" stroke-width="3.2" fill="none" stroke-linejoin="miter"/>
<path d="M799 683H810.3M799 805.3H810.3M799 928H810.3M799 1050H810.3M799 1173H810.3M902.5 1233.5V1245.4M1042.5 1233.5V1245.4M1181 1233.5V1245.4M1321.2 1233.5V1245.4" stroke="#000" stroke-width="3" fill="none"/>
<text transform="translate(749.84 690.91) scale(1.0439 1)" font-size="23" font-weight="bold" fill="#000">0.26</text>
<text transform="translate(749.85 813.21) scale(1.0275 1)" font-size="23" font-weight="bold" fill="#000">0.24</text>
<text transform="translate(749.84 935.91) scale(1.0467 1)" font-size="23" font-weight="bold" fill="#000">0.22</text>
<text transform="translate(749.84 1057.91) scale(1.0467 1)" font-size="23" font-weight="bold" fill="#000">0.20</text>
<text transform="translate(749.84 1180.91) scale(1.0412 1)" font-size="23" font-weight="bold" fill="#000">0.18</text>
<rect x="891.35" y="871" width="22.7" height="22.3" fill="#2323f8"/>
<path d="M902.7 871V848M891.35 848H914.05M902.7 893.3V905M891.35 905H914.05" stroke="#2323f8" stroke-width="5.5" fill="none"/>
<rect x="1031.05" y="994" width="22.5" height="21.8" fill="#fa2323"/>
<path d="M1042.3 994V966.5M1031.05 966.5H1053.55M1042.3 1015.8V1039.5M1031.05 1039.5H1053.55" stroke="#fa2323" stroke-width="5.5" fill="none"/>
<rect x="1170.85" y="1062.7" width="22.5" height="21.9" fill="#1dc01d"/>
<path d="M1182.1 1062.7V1027.4M1170.85 1027.4H1193.35M1182.1 1084.6V1119.7M1170.85 1119.7H1193.35" stroke="#1dc01d" stroke-width="5.5" fill="none"/>
<rect x="1310.55" y="1062.7" width="22.5" height="21.9" fill="#a828e0"/>
<path d="M1321.8 1062.7V1038.5M1310.55 1038.5H1333.05M1321.8 1084.6V1104.5M1310.55 1104.5H1333.05" stroke="#a828e0" stroke-width="5.5" fill="none"/>
<path d="M902.7 719H1321.2" stroke="#000" stroke-width="4"/>
<text transform="translate(1107.22 717.29) scale(1.0605 1)" font-size="20.5" font-weight="normal" fill="#000" stroke="#000" stroke-width="0.4" stroke-linejoin="round">****</text>
<path d="M902.7 742.8H1181.7" stroke="#000" stroke-width="4"/>
<text transform="translate(1027.82 741.99) scale(1.0605 1)" font-size="20.5" font-weight="normal" fill="#000" stroke="#000" stroke-width="0.4" stroke-linejoin="round">****</text>
<path d="M902.7 765.7H1040" stroke="#000" stroke-width="4"/>
<text transform="translate(956.72 765.89) scale(1.0605 1)" font-size="20.5" font-weight="normal" fill="#000" stroke="#000" stroke-width="0.4" stroke-linejoin="round">****</text>
<path d="M1044.4 789.9H1321.2" stroke="#000" stroke-width="4"/>
<text transform="translate(1168.42 789.89) scale(1.0605 1)" font-size="20.5" font-weight="normal" fill="#000" stroke="#000" stroke-width="0.4" stroke-linejoin="round">****</text>
<path d="M1044.8 824.2H1181.7" stroke="#000" stroke-width="4"/>
<text transform="translate(1097.82 823.09) scale(1.0605 1)" font-size="20.5" font-weight="normal" fill="#000" stroke="#000" stroke-width="0.4" stroke-linejoin="round">****</text>
<text transform="translate(857.98 1267.6) scale(0.9628 1)" font-size="21.5" font-weight="bold" fill="#000">Superior</text>
<text transform="translate(1006.08 1267.6) scale(0.9793 1)" font-size="21.5" font-weight="bold" fill="#000">Inferior</text>
<text transform="translate(1130.79 1267.6) scale(0.9736 1)" font-size="21.5" font-weight="bold" fill="#000">Temporal</text>
<text transform="translate(1287.76 1267.6) scale(0.9891 1)" font-size="21.5" font-weight="bold" fill="#000">Nasal</text>
<path d="M815.1 1325.8V1867.6H1407" stroke="#000" stroke-width="4.4" fill="none" stroke-linejoin="miter"/>
<path d="M803.3 1328H815.1M803.3 1448H815.1M803.3 1568H815.1M803.3 1688H815.1M803.3 1808.5H815.1M906.6 1867.6V1880.5M1042.8 1867.6V1880.5M1178.2 1867.6V1880.5M1314.5 1867.6V1880.5" stroke="#000" stroke-width="4" fill="none"/>
<text transform="translate(746.69 1337.11) scale(1.0433 1)" font-size="26.5" font-weight="bold" fill="#000">0.26</text>
<text transform="translate(746.71 1457.11) scale(1.0268 1)" font-size="26.5" font-weight="bold" fill="#000">0.24</text>
<text transform="translate(746.69 1577.11) scale(1.0461 1)" font-size="26.5" font-weight="bold" fill="#000">0.22</text>
<text transform="translate(746.69 1697.11) scale(1.0461 1)" font-size="26.5" font-weight="bold" fill="#000">0.20</text>
<text transform="translate(746.7 1817.61) scale(1.0405 1)" font-size="26.5" font-weight="bold" fill="#000">0.18</text>
<rect x="893.75" y="1512.5" width="25.7" height="27.3" fill="#2323f8"/>
<path d="M906.6 1512.5V1496.2M893.75 1496.2H919.45M906.6 1539.8V1577.7M893.75 1577.7H919.45" stroke="#2323f8" stroke-width="6" fill="none"/>
<rect x="1029.85" y="1532.2" width="25.7" height="26.8" fill="#fa2323"/>
<path d="M1042.7 1532.2V1511.7M1029.85 1511.7H1055.55M1042.7 1559V1579M1029.85 1579H1055.55" stroke="#fa2323" stroke-width="6" fill="none"/>
<rect x="1165.35" y="1612" width="25.7" height="26.8" fill="#000"/>
<path d="M1178.2 1612V1595.8M1165.35 1595.8H1191.05M1178.2 1638.8V1657.8M1165.35 1657.8H1191.05" stroke="#000" stroke-width="6" fill="none"/>
<rect x="1301.55" y="1703.5" width="25.7" height="27" fill="#a828e0"/>
<path d="M1314.4 1703.5V1673.5M1301.55 1673.5H1327.25M1314.4 1730.5V1740M1301.55 1740H1327.25" stroke="#a828e0" stroke-width="6" fill="none"/>
<path d="M905.7 1358.7H1314.6" stroke="#000" stroke-width="4.3"/>
<text transform="translate(1024.86 1360.7) scale(1.0400 1)" font-size="24" font-weight="normal" fill="#000" stroke="#000" stroke-width="0.4" stroke-linejoin="round">****</text>
<path d="M905.7 1389.8H1178.6" stroke="#000" stroke-width="4.3"/>
<text transform="translate(1024.86 1389.4) scale(1.0400 1)" font-size="24" font-weight="normal" fill="#000" stroke="#000" stroke-width="0.4" stroke-linejoin="round">****</text>
<path d="M1042.6 1414.3H1314.6" stroke="#000" stroke-width="4.3"/>
<text transform="translate(1163.26 1416.9) scale(1.0400 1)" font-size="24" font-weight="normal" fill="#000" stroke="#000" stroke-width="0.4" stroke-linejoin="round">****</text>
<path d="M1042.6 1447.6H1178.6" stroke="#000" stroke-width="4.3"/>
<text transform="translate(1086.76 1450.2) scale(1.0400 1)" font-size="24" font-weight="normal" fill="#000" stroke="#000" stroke-width="0.4" stroke-linejoin="round">****</text>
<path d="M1179.5 1469.9H1315.2" stroke="#000" stroke-width="4.3"/>
<text transform="translate(1230.36 1470.4) scale(1.0400 1)" font-size="24" font-weight="normal" fill="#000" stroke="#000" stroke-width="0.4" stroke-linejoin="round">****</text>
<text transform="translate(869.66 1907.4) scale(0.9262 1)" font-size="25.5" font-weight="bold" fill="#000">Centre</text>
<text transform="translate(987.88 1907.4) scale(0.9415 1)" font-size="25.5" font-weight="bold" fill="#000">Inner ring</text>
<text transform="translate(1121.04 1907.4) scale(0.9415 1)" font-size="25.5" font-weight="bold" fill="#000">Outer ring</text>
<text transform="translate(1284.16 1907.4) scale(0.9299 1)" font-size="25.5" font-weight="bold" fill="#000">XMac</text>
<path d="M818.1 1948.5V2491.3H1464" stroke="#000" stroke-width="4.3" fill="none" stroke-linejoin="miter"/>
<path d="M808.3 1950.7H818.1M808.3 2071.2H818.1M808.3 2191.3H818.1M808.3 2311.8H818.1M808.3 2431.8H818.1M859.2 2491.3V2505M921.8 2491.3V2505M984 2491.3V2505M1046.3 2491.3V2505M1108.7 2491.3V2505M1171.1 2491.3V2505M1233.3 2491.3V2505M1295.6 2491.3V2505M1358.1 2491.3V2505M1420.4 2491.3V2505" stroke="#000" stroke-width="3.4" fill="none"/>
<text transform="translate(760.78 1959.98) scale(0.8477 1)" font-size="27" font-weight="bold" fill="#000">0.26</text>
<text transform="translate(760.8 2080.48) scale(0.8343 1)" font-size="27" font-weight="bold" fill="#000">0.24</text>
<text transform="translate(760.78 2200.58) scale(0.8500 1)" font-size="27" font-weight="bold" fill="#000">0.22</text>
<text transform="translate(760.78 2321.08) scale(0.8500 1)" font-size="27" font-weight="bold" fill="#000">0.20</text>
<text transform="translate(760.79 2441.08) scale(0.8454 1)" font-size="27" font-weight="bold" fill="#000">0.18</text>
<path d="M890.4 1950.2V2486" stroke="#000" stroke-width="3.8" stroke-dasharray="0.01 13.27" stroke-linecap="round"/>
<path d="M1145.8 1950.2V2486" stroke="#000" stroke-width="3.8" stroke-dasharray="0.01 13.27" stroke-linecap="round"/>
<path d="M1390.9 1950.2V2486" stroke="#000" stroke-width="3.8" stroke-dasharray="0.01 13.27" stroke-linecap="round"/>
<rect x="848.7" y="2117.91" width="21" height="26.4" fill="#2323f8"/>
<path d="M859.2 2144.31V2191.25M848.7 2191.25H869.7" stroke="#2323f8" stroke-width="2.4" fill="none"/>
<rect x="911.3" y="2117.91" width="21" height="26.4" fill="#fa2323"/>
<path d="M921.8 2117.91V2070.97M911.3 2070.97H932.3M921.8 2144.31V2191.25M911.3 2191.25H932.3" stroke="#fa2323" stroke-width="2.4" fill="none"/>
<rect x="973.5" y="2178.05" width="21" height="26.4" fill="#000"/>
<path d="M984 2178.05V2131.11M973.5 2131.11H994.5M984 2204.45V2251.39M973.5 2251.39H994.5" stroke="#000" stroke-width="2.4" fill="none"/>
<rect x="1035.8" y="2178.05" width="21" height="26.4" fill="#a828e0"/>
<path d="M1046.3 2178.05V2131.11M1035.8 2131.11H1056.8M1046.3 2204.45V2251.39M1035.8 2251.39H1056.8" stroke="#a828e0" stroke-width="2.4" fill="none"/>
<rect x="1098.2" y="2178.05" width="21" height="26.4" fill="#0c0c80"/>
<path d="M1108.7 2178.05V2131.11M1098.2 2131.11H1119.2" stroke="#0c0c80" stroke-width="2.4" fill="none"/>
<rect x="1160.6" y="2117.91" width="21" height="26.4" fill="#1dc01d"/>
<path d="M1171.1 2117.91V2070.97M1160.6 2070.97H1181.6" stroke="#1dc01d" stroke-width="2.4" fill="none"/>
<rect x="1222.8" y="2238.19" width="21" height="26.4" fill="#9a6a2a"/>
<path d="M1233.3 2238.19V2191.25M1222.8 2191.25H1243.8" stroke="#9a6a2a" stroke-width="2.4" fill="none"/>
<rect x="1285.1" y="2298.33" width="21" height="26.4" fill="#ff8c28"/>
<path d="M1295.6 2298.33V2251.39M1285.1 2251.39H1306.1M1295.6 2324.72V2371.66M1285.1 2371.66H1306.1" stroke="#ff8c28" stroke-width="2.4" fill="none"/>
<rect x="1347.6" y="2298.33" width="21" height="26.4" fill="#600a50"/>
<path d="M1358.1 2298.33V2251.39M1347.6 2251.39H1368.6M1358.1 2324.72V2371.66M1347.6 2371.66H1368.6" stroke="#600a50" stroke-width="2.4" fill="none"/>
<rect x="1409.9" y="2358.46" width="21" height="26.4" fill="#a01414"/>
<path d="M1420.4 2358.46V2311.53M1409.9 2311.53H1430.9" stroke="#a01414" stroke-width="2.4" fill="none"/>
<path d="M1108 1964.2H1357" stroke="#000" stroke-width="4.3"/>
<text transform="translate(1218.64 1964.78) scale(0.9593 1)" font-size="21.5" font-weight="normal" fill="#000" stroke="#000" stroke-width="0.4" stroke-linejoin="round">****</text>
<path d="M1047 1988.4H1296" stroke="#000" stroke-width="4.3"/>
<text transform="translate(1156.84 1989.58) scale(0.9593 1)" font-size="21.5" font-weight="normal" fill="#000" stroke="#000" stroke-width="0.4" stroke-linejoin="round">****</text>
<path d="M923.4 2015.1H1109.2" stroke="#000" stroke-width="4.3"/>
<text transform="translate(1005.24 2017.78) scale(0.9593 1)" font-size="21.5" font-weight="normal" fill="#000" stroke="#000" stroke-width="0.4" stroke-linejoin="round">****</text>
<path d="M923.4 2036.8H1046.7" stroke="#000" stroke-width="4.3"/>
<text transform="translate(976.74 2039.18) scale(0.9593 1)" font-size="21.5" font-weight="normal" fill="#000" stroke="#000" stroke-width="0.4" stroke-linejoin="round">****</text>
<path d="M922.7 2057H986.5" stroke="#000" stroke-width="4.3"/>
<text transform="translate(940.14 2060.18) scale(0.9593 1)" font-size="21.5" font-weight="normal" fill="#000" stroke="#000" stroke-width="0.4" stroke-linejoin="round">****</text>
<path d="M1171.1 2014.4H1357.4" stroke="#000" stroke-width="4.3"/>
<text transform="translate(1253.34 2015.78) scale(0.9593 1)" font-size="21.5" font-weight="normal" fill="#000" stroke="#000" stroke-width="0.4" stroke-linejoin="round">****</text>
<path d="M1171.1 2036H1294.3" stroke="#000" stroke-width="4.3"/>
<text transform="translate(1224.34 2038.48) scale(0.9593 1)" font-size="21.5" font-weight="normal" fill="#000" stroke="#000" stroke-width="0.4" stroke-linejoin="round">****</text>
<path d="M1170.3 2057.5H1234.6" stroke="#000" stroke-width="4.3"/>
<text transform="translate(1195.34 2060.18) scale(0.9593 1)" font-size="21.5" font-weight="normal" fill="#000" stroke="#000" stroke-width="0.4" stroke-linejoin="round">****</text>
<path d="M1233.8 2079.4H1297.6" stroke="#000" stroke-width="4.3"/>
<text transform="translate(1253.34 2082.58) scale(0.9593 1)" font-size="21.5" font-weight="normal" fill="#000" stroke="#000" stroke-width="0.4" stroke-linejoin="round">****</text>
<text transform="translate(828.93 2531) scale(0.8051 1)" font-size="24" font-weight="bold" fill="#000">Centre</text>
<text transform="translate(903.52 2531) scale(0.8093 1)" font-size="24" font-weight="bold" fill="#000">Sup</text>
<text transform="translate(972.07 2531) scale(0.8189 1)" font-size="24" font-weight="bold" fill="#000">Inf</text>
<text transform="translate(1028.57 2531) scale(0.8213 1)" font-size="24" font-weight="bold" fill="#000">Nas</text>
<text transform="translate(1083.9 2531) scale(0.8260 1)" font-size="24" font-weight="bold" fill="#000">Temp</text>
<text transform="translate(1152.61 2531) scale(0.8253 1)" font-size="24" font-weight="bold" fill="#000">Sup</text>
<text transform="translate(1221.48 2531) scale(0.8153 1)" font-size="24" font-weight="bold" fill="#000">Inf</text>
<text transform="translate(1277.87 2531) scale(0.8237 1)" font-size="24" font-weight="bold" fill="#000">Nas</text>
<text transform="translate(1332.7 2531) scale(0.8260 1)" font-size="24" font-weight="bold" fill="#000">Temp</text>
<text transform="translate(1395.2 2531) scale(0.8131 1)" font-size="24" font-weight="bold" fill="#000">XMac</text>
<path d="M922.3 2548V2559.9H1109.6V2548M1173.6 2548V2559.9H1359.4V2548" stroke="#000" stroke-width="3.8" fill="none"/>
<text transform="translate(971.39 2586.9) scale(0.8087 1)" font-size="24" font-weight="bold" fill="#000">Inner ring</text>
<text transform="translate(1218.2 2588.1) scale(0.8311 1)" font-size="24" font-weight="bold" fill="#000">Outer ring</text>
</svg>
</body></html>
